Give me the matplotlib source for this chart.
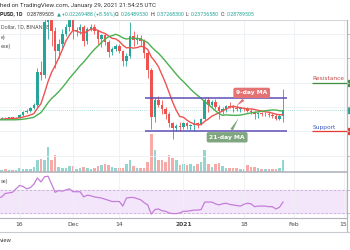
"""
XRP/USD harian (TradingView) - candle, MA 9/21, volume, RSI
"""

import numpy as np
import pandas as pd
import matplotlib.pyplot as plt
from matplotlib.patches import Rectangle

# ============================================================
# DATA (10 Nov 2020 - 29 Jan 2021, satu nilai per hari)
# ============================================================
opens = [0.250, 0.252, 0.256, 0.254, 0.258, 0.255, 0.256, 0.268, 0.281, 0.283,
         0.295, 0.310, 0.445, 0.430, 0.650, 0.680, 0.610, 0.530, 0.560, 0.600,
         0.630, 0.665, 0.610, 0.615, 0.630, 0.570, 0.620, 0.630, 0.610, 0.580,
         0.595, 0.565, 0.525, 0.540, 0.550, 0.530, 0.490, 0.510, 0.590, 0.575,
         0.585, 0.570, 0.520, 0.450, 0.260, 0.330, 0.310, 0.290, 0.270, 0.235,
         0.215, 0.222, 0.218, 0.235, 0.222, 0.226, 0.236, 0.232, 0.250, 0.330,
         0.310, 0.320, 0.300, 0.285, 0.290, 0.305, 0.300, 0.295, 0.290, 0.295,
         0.290, 0.285, 0.280, 0.270, 0.275, 0.270, 0.273, 0.268, 0.265, 0.250,
         0.2649]
highs = [0.254, 0.258, 0.259, 0.260, 0.261, 0.258, 0.272, 0.285, 0.292, 0.300,
         0.315, 0.460, 0.490, 0.700, 0.780, 0.700, 0.630, 0.580, 0.620, 0.640,
         0.680, 0.690, 0.630, 0.640, 0.635, 0.630, 0.640, 0.640, 0.615, 0.600,
         0.600, 0.575, 0.545, 0.560, 0.560, 0.535, 0.520, 0.650, 0.610, 0.600,
         0.595, 0.580, 0.530, 0.460, 0.340, 0.345, 0.330, 0.300, 0.280, 0.240,
         0.230, 0.240, 0.240, 0.240, 0.230, 0.250, 0.240, 0.255, 0.340, 0.340,
         0.330, 0.335, 0.310, 0.300, 0.310, 0.320, 0.310, 0.310, 0.300, 0.300,
         0.300, 0.290, 0.285, 0.280, 0.280, 0.280, 0.285, 0.275, 0.270, 0.270,
         0.3727]
lows = [0.246, 0.250, 0.251, 0.251, 0.252, 0.250, 0.254, 0.263, 0.275, 0.279,
        0.292, 0.300, 0.410, 0.420, 0.580, 0.550, 0.460, 0.500, 0.540, 0.590,
        0.610, 0.580, 0.590, 0.600, 0.550, 0.560, 0.610, 0.600, 0.560, 0.545,
        0.555, 0.505, 0.515, 0.530, 0.520, 0.470, 0.470, 0.500, 0.550, 0.560,
        0.550, 0.500, 0.420, 0.210, 0.240, 0.300, 0.270, 0.250, 0.220, 0.170,
        0.200, 0.200, 0.210, 0.210, 0.205, 0.200, 0.215, 0.225, 0.245, 0.280,
        0.300, 0.290, 0.250, 0.270, 0.280, 0.295, 0.280, 0.285, 0.280, 0.285,
        0.280, 0.270, 0.250, 0.255, 0.265, 0.265, 0.260, 0.255, 0.245, 0.245,
        0.2374]
closes = [0.252, 0.256, 0.254, 0.258, 0.255, 0.256, 0.268, 0.281, 0.283, 0.295,
          0.310, 0.445, 0.430, 0.650, 0.680, 0.610, 0.530, 0.560, 0.600, 0.630,
          0.665, 0.610, 0.615, 0.630, 0.570, 0.620, 0.630, 0.610, 0.580, 0.595,
          0.565, 0.525, 0.540, 0.550, 0.530, 0.490, 0.510, 0.590, 0.575, 0.585,
          0.570, 0.520, 0.450, 0.260, 0.330, 0.310, 0.290, 0.270, 0.235, 0.215,
          0.222, 0.218, 0.235, 0.222, 0.226, 0.236, 0.232, 0.250, 0.330, 0.310,
          0.320, 0.300, 0.285, 0.290, 0.305, 0.300, 0.295, 0.290, 0.295, 0.290,
          0.285, 0.280, 0.270, 0.275, 0.270, 0.273, 0.268, 0.265, 0.250, 0.2649,
          0.2879]
# penutupan sebelum 10 Nov, hanya untuk pemanasan MA
warmup_closes = [0.250, 0.255, 0.258, 0.256, 0.252, 0.250, 0.248, 0.244, 0.240, 0.241,
                 0.238, 0.236, 0.235, 0.240, 0.245, 0.255, 0.250, 0.252, 0.250, 0.251]
volumes = [60, 75, 90, 75, 60, 75, 120, 105, 90, 105,
           150, 360, 390, 360, 750, 360, 510, 150, 120, 120,
           180, 180, 90, 120, 150, 120, 90, 120, 180, 210,
           240, 210, 150, 120, 120, 120, 240, 360, 180, 120,
           120, 120, 300, 1140, 660, 360, 360, 300, 510, 420,
           360, 210, 240, 210, 240, 180, 240, 300, 660, 240,
           150, 240, 270, 180, 120, 120, 120, 120, 90, 90,
           210, 150, 150, 120, 90, 90, 90, 90, 90, 120,
           360]
rsi = [56, 58, 64, 65, 66, 72, 78, 76, 72, 74,
       80, 91, 84, 93, 94, 80, 66, 69, 68, 70,
       72, 67, 67, 67, 58, 61, 60, 58, 57, 56,
       54, 52, 50, 50, 50, 42, 56, 57, 57, 55,
       53, 48, 44, 28, 36, 37, 34, 33, 30, 29,
       29, 30, 33, 33, 34, 35, 35, 36, 49, 49,
       49, 46, 44, 46, 47, 45, 44, 43, 42, 45,
       47, 46, 41, 42, 42, 42, 41, 41, 37, 40,
       49]

tick_days = [6, 21, 34, 52, 69, 83, 97]
tick_labels = ["16", "Dec", "14", "2021", "18", "Feb", "15"]

resistance = 0.40
support = 0.20
range_top = 0.337
range_bottom = 0.20

# ============================================================
# WARNA
# ============================================================
UP = "#26a69a"
DOWN = "#ef5350"
UP_VOL = "#93d5cf"
DOWN_VOL = "#f7aaa8"
MA9_COLOR = "#ef5350"
MA21_COLOR = "#4caf50"
RANGE_COLOR = "#5e4fb5"
RSI_COLOR = "#c47ed8"
GRID = "#eef1f4"
AXIS = "#b2b5be"
HDR_FONT = ["Roboto", "DejaVu Sans"]

W, H = 350, 250


def fx(x):
    return x / W


def fy(y):
    return 1 - y / H


# ============================================================
# HITUNG MA
# ============================================================
all_close = pd.Series(warmup_closes + closes)
ma9 = all_close.rolling(9).mean().values[len(warmup_closes):]
ma21 = all_close.rolling(21).mean().values[len(warmup_closes):]

days = np.arange(len(closes))
o = np.array(opens)
c = np.array(closes)
up = c >= o

fig = plt.figure(figsize=(3.5, 2.5), dpi=100)
fig.patch.set_facecolor("white")

XL = (0.5, 97.97)

# ============================================================
# PANEL HARGA
# ============================================================
ax = fig.add_axes([0, fy(172), fx(347), 152 / H])
ax.set_xlim(*XL)
ax.set_ylim(0.0337, 0.6569)

for p in [0.1, 0.2, 0.3, 0.4, 0.5, 0.6]:
    ax.axhline(p, color=GRID, lw=0.6, zorder=0)
for d in tick_days:
    ax.axvline(d, color=GRID, lw=0.6, zorder=0)

# volume di bagian bawah panel
axv = ax.twinx()
axv.set_ylim(0, 4560)
axv.bar(days, volumes, width=0.72,
        color=[UP_VOL if u else DOWN_VOL for u in up], zorder=1)
axv.set_axis_off()
ax.set_zorder(axv.get_zorder() + 1)
ax.patch.set_visible(False)

# candle
cols = [UP if u else DOWN for u in up]
ax.vlines(days, lows, highs, colors=cols, lw=0.6, zorder=3)
ax.bar(days, np.maximum(np.abs(c - o), 0.002), bottom=np.minimum(o, c),
       width=0.7, color=cols, zorder=4)

ax.plot(days, ma9, color=MA9_COLOR, lw=1.0, zorder=5)
ax.plot(days, ma21, color=MA21_COLOR, lw=1.0, zorder=5)

# garis harga terakhir
ax.axhline(closes[-1], color="#9fd6d0", lw=0.6, ls=(0, (1, 1.5)), zorder=2)

# range sideways
ax.hlines([range_top, range_bottom], 41.2, 81.1, color=RANGE_COLOR, lw=1.1, zorder=6)

# label MA
ax.annotate("9-day MA", xy=(66.3, 0.298), xytext=(71.2, 0.358),
            ha="center", va="center", fontsize=4.3, color="white", fontweight="bold",
            bbox=dict(boxstyle="round,pad=0.45,rounding_size=0.3", fc="#e57373", ec="none"),
            arrowprops=dict(arrowstyle="wedge,tail_width=0.5", fc="#e57373", ec="none"),
            zorder=8)
ax.annotate("21-day MA", xy=(67.9, 0.264), xytext=(64.3, 0.176),
            ha="center", va="center", fontsize=4.3, color="white", fontweight="bold",
            bbox=dict(boxstyle="round,pad=0.45,rounding_size=0.3", fc="#7fa67f", ec="none"),
            arrowprops=dict(arrowstyle="wedge,tail_width=0.5", fc="#7fa67f", ec="none"),
            zorder=8)

# support / resistance
ax.hlines(resistance, 88.2, 97.97, color="#3e8e3e", lw=0.9, zorder=6)
ax.hlines(support, 88.2, 97.97, color="#e53935", lw=0.9, zorder=6)
ax.text(88.3, resistance + 0.005, "Resistance", fontsize=4.2, color="#c44a4a",
        ha="left", va="bottom")
ax.text(88.3, support + 0.005, "Support", fontsize=4.2, color="#3b5bbf",
        ha="left", va="bottom")

ax.set_xticks([])
ax.set_yticks([])
for s in ["left", "bottom"]:
    ax.spines[s].set_visible(False)
ax.spines["top"].set_color("#d6d9de")
ax.spines["top"].set_linewidth(0.8)
ax.spines["right"].set_color(AXIS)
ax.spines["right"].set_linewidth(0.8)
ax.axhline(0.0337, color=AXIS, lw=1.2, clip_on=False)

ax.text(0.002, 0.955, "Dollar, 1D, BINANCE", transform=ax.transAxes,
        fontsize=3.9, color="#555", ha="left", va="center", family=HDR_FONT)
ax.text(0.002, 0.89, "e)", transform=ax.transAxes,
        fontsize=3.9, color="#555", ha="left", va="center", family=HDR_FONT)
ax.text(0.002, 0.825, "ese)", transform=ax.transAxes,
        fontsize=3.9, color="#555", ha="left", va="center", family=HDR_FONT)

# ============================================================
# PANEL RSI
# ============================================================
ar = fig.add_axes([0, fy(218), fx(347), 46 / H])
ar.set_xlim(*XL)
ar.set_ylim(21.3, 101.3)
ar.axhspan(30, 70, color="#f3e6fb", zorder=0)
ar.axhline(70, color="#c9aed6", lw=0.6, ls=(0, (3, 2)), zorder=1)
ar.axhline(30, color="#c9aed6", lw=0.6, ls=(0, (3, 2)), zorder=1)
for d in tick_days:
    ar.axvline(d, color=GRID, lw=0.6, zorder=0)
ar.plot(days, rsi, color=RSI_COLOR, lw=0.9, zorder=3)
ar.text(0.002, 0.8, "se)", transform=ar.transAxes,
        fontsize=3.9, color="#555", ha="left", va="center", family=HDR_FONT)

ar.set_yticks([])
ar.set_xticks(tick_days)
ar.set_xticklabels(tick_labels, fontsize=4.3, color="#444")
ar.get_xticklabels()[3].set_fontweight("bold")
ar.tick_params(axis="x", length=0, pad=3)
for s in ["left", "top"]:
    ar.spines[s].set_visible(False)
ar.spines["bottom"].set_color(AXIS)
ar.spines["bottom"].set_linewidth(0.8)
ar.spines["right"].set_color(AXIS)
ar.spines["right"].set_linewidth(0.8)

# ============================================================
# HEADER, SUMBU KANAN, FOOTER
# ============================================================
# latar putih header di atas panel harga
fig.add_artist(Rectangle((0, fy(19.6)), 1, 19.6 / H, facecolor="white",
                         edgecolor="none", transform=fig.transFigure, zorder=2.9))

fig.text(fx(0), fy(5), "hed on TradingView.com, January 29, 2021 21:54:25 UTC",
         fontsize=4.4, color="#333", ha="left", va="center", family=HDR_FONT)
hdr = [
    (0, "PUSD, 1D", "#222", "bold"),
    (27, "0.28789505", "#333", "normal"),
    (57, "\u25b2", UP, "normal"),
    (62, "+0.02269488 (+8.56%)", UP, "normal"),
    (115, "O:", "#333", "normal"),
    (121, "0.26489530", UP, "normal"),
    (151, "H:", "#333", "normal"),
    (157, "0.37268300", UP, "normal"),
    (186, "L:", "#333", "normal"),
    (191, "0.23736580", UP, "normal"),
    (221, "C:", "#333", "normal"),
    (227, "0.28789505", UP, "normal"),
]
for x, t, col, w in hdr:
    fig.text(fx(x), fy(14), t, fontsize=3.8, color=col, fontweight=w,
             ha="left", va="center", family=HDR_FONT)

# sumbu kanan terpotong
fig.add_artist(plt.Line2D([fx(347), fx(347)], [fy(20), fy(232)],
                          color=AXIS, lw=0.8))
for y in [34, 58, 83, 107, 131, 156, 190, 213]:
    fig.add_artist(plt.Line2D([fx(347), fx(350)], [fy(y), fy(y)],
                              color=AXIS, lw=0.6))
for y0, col in [(80, "#3e8e3e"), (107, UP), (128, "#e53935")]:
    fig.add_artist(Rectangle((fx(347.5), fy(y0 + 6)), fx(3), 6 / H,
                             color=col, transform=fig.transFigure))

fig.add_artist(plt.Line2D([0, 1], [fy(232), fy(232)], color="#c8cbd0", lw=0.8))
fig.text(fx(0), fy(241), "view", fontsize=4.3, color="#444", ha="left", va="center",
         family=HDR_FONT)

fig.savefig("out.png", dpi=100, facecolor="white")
